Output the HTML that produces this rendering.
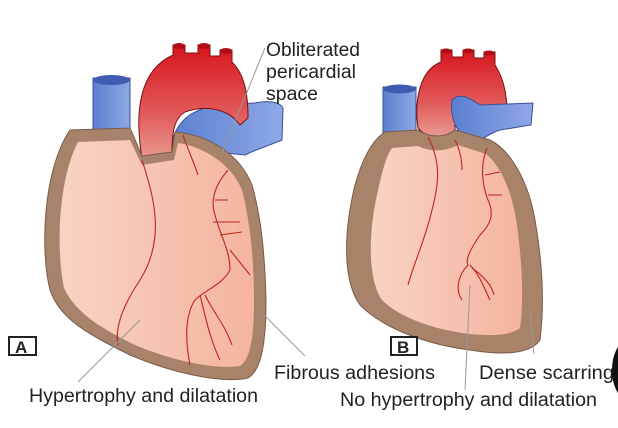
<!DOCTYPE html>
<html><head><meta charset="utf-8"><style>
html,body{margin:0;padding:0;background:#fff;}
svg{display:block;}
text{font-family:"Liberation Sans",sans-serif;fill:#222;}
</style></head><body>
<svg width="618" height="428" viewBox="0 0 618 428" xmlns="http://www.w3.org/2000/svg">
<defs>
<linearGradient id="red" x1="0" y1="0" x2="0" y2="1"><stop offset="0" stop-color="#d8141e"/><stop offset="0.6" stop-color="#e25a5a"/><stop offset="1" stop-color="#e89a90"/></linearGradient>
<linearGradient id="blue" x1="0" y1="0" x2="1" y2="0"><stop offset="0" stop-color="#5a7fd0"/><stop offset="1" stop-color="#8fa8e6"/></linearGradient>
<linearGradient id="pink" x1="0" y1="0" x2="1" y2="0"><stop offset="0" stop-color="#f9d3c2"/><stop offset="1" stop-color="#f4b4a0"/></linearGradient>
</defs>
<!-- Heart A -->
<rect x="93" y="78" width="37" height="55" fill="url(#blue)" stroke="#3a4f99" stroke-width="1"/>
<ellipse cx="111.5" cy="80" rx="18.5" ry="5" fill="#3f5cb0"/>
<path d="M170,150 C175,118 195,106 230,104 L255,103 C268,100 280,102 283,108 L282,140 C270,145 255,150 245,155 L195,150 Z" fill="url(#blue)" stroke="#3a4f99"/>
<path d="M142,158 C134,110 140,70 173,55 L173,45 L185,45 L185,53 L198,53 L198,45 L210,45 L210,56 L220,56 L220,50 L232,50 L232,62 C245,75 248,95 248,118 L240,125 C228,108 205,105 185,112 C175,118 172,130 172,152 C162,158 150,160 142,158 Z" fill="url(#red)" stroke="#7a1010"/>
<ellipse cx="179" cy="46" rx="6" ry="3" fill="#b00c14"/><ellipse cx="204" cy="46" rx="6" ry="3" fill="#b00c14"/><ellipse cx="226" cy="51" rx="6" ry="3" fill="#b00c14"/>
<path d="M70,130 L130,128 L142,156 L172,152 L175,132 C210,135 240,155 252,185 C262,220 265,260 266,300 C266,340 262,370 248,378 C220,384 170,372 130,355 C90,335 60,320 50,290 C40,250 43,170 70,130 Z" fill="#a8836a" stroke="#7a5a48"/>
<path d="M78,142 L130,140 L142,165 L174,160 L178,143 C205,147 232,165 242,190 C251,225 254,265 254,300 C254,330 252,358 240,366 C215,370 170,360 135,345 C100,328 75,312 64,288 C56,250 58,180 78,142 Z" fill="url(#pink)"/>
<g fill="none" stroke="#c0241c" stroke-width="1.1">
<path d="M142,160 C155,200 165,240 140,280 C120,310 115,330 118,345"/>
<path d="M183,135 C188,150 195,165 198,175"/>
<path d="M228,170 C215,185 210,200 215,215 C220,235 230,250 230,270 C222,285 205,290 195,300 C185,315 185,340 190,365"/>
<path d="M215,200 L228,200 M213,222 L240,222 M220,235 L242,232 M230,250 L250,275"/>
<path d="M200,295 C205,315 210,340 220,360 M205,295 C215,315 225,325 232,345"/>
</g>
<!-- Heart B -->
<rect x="383" y="87" width="33" height="46" fill="url(#blue)" stroke="#3a4f99"/>
<ellipse cx="399.5" cy="89" rx="16.5" ry="4.5" fill="#3f5cb0"/>
<path d="M418,128 C414,100 420,70 441,62 L441,50 L452,50 L452,57 L463,57 L463,50 L474,50 L474,58 L484,58 L484,52 L495,52 L495,65 C505,80 508,100 507,125 C495,130 480,130 470,118 C468,108 460,100 455,112 L455,130 C445,140 428,140 418,128 Z" fill="url(#red)" stroke="#7a1010"/>
<ellipse cx="446" cy="51" rx="5.5" ry="2.5" fill="#b00c14"/><ellipse cx="468" cy="51" rx="5.5" ry="2.5" fill="#b00c14"/><ellipse cx="489" cy="53" rx="5.5" ry="2.5" fill="#b00c14"/>
<path d="M452,100 C460,92 470,98 480,105 L533,103 L531,125 L500,130 C490,133 485,138 480,140 L465,138 C455,130 450,115 452,100 Z" fill="url(#blue)" stroke="#3a4f99"/>
<path d="M385,132 L418,130 C430,138 445,138 455,130 L490,140 C510,150 528,180 535,220 C542,260 545,300 540,340 C530,355 500,355 470,350 C430,345 385,330 360,305 C342,280 344,230 355,185 C362,160 372,140 385,132 Z" fill="#a8836a" stroke="#7a5a48"/>
<path d="M392,148 L418,146 C430,152 445,152 458,145 L486,154 C500,165 512,190 517,225 C522,262 524,300 520,328 C510,336 490,336 470,334 C435,330 400,318 382,300 C368,280 368,235 377,195 C382,172 386,156 392,148 Z" fill="url(#pink)"/>
<g fill="none" stroke="#c0241c" stroke-width="1.1">
<path d="M428,137 C440,160 440,180 432,210 C425,240 415,260 408,285"/>
<path d="M455,140 C460,150 462,160 462,170"/>
<path d="M487,148 C480,165 482,185 488,200 C495,215 490,225 480,235 C470,250 465,260 468,265 C458,275 455,290 462,300"/>
<path d="M485,175 L500,172 M488,195 L502,195 M470,265 C480,275 485,290 490,300 M472,268 C482,275 492,285 494,295"/>
</g>
<!-- leader lines -->
<g stroke="#999" stroke-width="1" fill="none">
<line x1="265" y1="48" x2="222" y2="153"/>
<line x1="140" y1="320" x2="78" y2="382"/>
<line x1="262" y1="313" x2="305" y2="356"/>
<line x1="470" y1="285" x2="465" y2="390"/>
<line x1="530" y1="310" x2="534" y2="354"/>
</g>
<!-- labels -->
<rect x="9" y="337" width="27" height="18" fill="#fff" stroke="#222" stroke-width="2"/>
<text x="15" y="353" font-size="17" font-weight="bold">A</text>
<rect x="391" y="337" width="26" height="18" fill="#fff" stroke="#222" stroke-width="2"/>
<text x="397" y="353" font-size="17" font-weight="bold">B</text>
<text x="266" y="56" font-size="19" textLength="94" lengthAdjust="spacingAndGlyphs">Obliterated</text>
<text x="266" y="78" font-size="19" textLength="90" lengthAdjust="spacingAndGlyphs">pericardial</text>
<text x="266" y="100" font-size="19" textLength="52" lengthAdjust="spacingAndGlyphs">space</text>
<text x="274" y="379" font-size="19" textLength="161" lengthAdjust="spacingAndGlyphs">Fibrous adhesions</text>
<text x="479" y="379" font-size="19" textLength="135" lengthAdjust="spacingAndGlyphs">Dense scarring</text>
<text x="29" y="402" font-size="19" textLength="229" lengthAdjust="spacingAndGlyphs">Hypertrophy and dilatation</text>
<text x="340" y="406" font-size="19" textLength="257" lengthAdjust="spacingAndGlyphs">No hypertrophy and dilatation</text>
<ellipse cx="626" cy="370" rx="14" ry="28" fill="#111"/>
</svg>
</body></html>
